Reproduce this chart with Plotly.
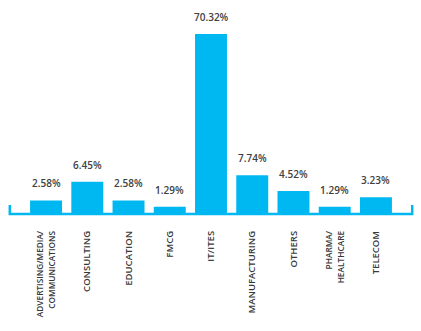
import plotly.graph_objects as go

# Share of respondents by industry
categories = [
    "ADVERTISING/MEDIA/<br>COMMUNICATIONS",
    "CONSULTING",
    "EDUCATION",
    "FMCG",
    "IT/ITES",
    "MANUFACTURING",
    "OTHERS",
    "PHARMA/<br>HEALTHCARE",
    "TELECOM",
]
shares = [2.58, 6.45, 2.58, 1.29, 70.32, 7.74, 4.52, 1.29, 3.23]

BLUE = "#00B8F1"
Y_TOP = 36.8  # axis is cut off here so the small bars stay readable


def tick_text(label):
    # two-line labels are set a little smaller than the single-line ones
    if "<br>" in label:
        return "<br>".join(
            f'<span style="font-size:8.3px">{part}</span>' for part in label.split("<br>")
        )
    return label


fig = go.Figure(
    go.Bar(
        x=list(range(len(categories))),
        y=shares,
        marker=dict(color=BLUE, line=dict(width=0)),
        hoverinfo="skip",
    )
)

# Value labels above each bar (the tallest bar is cut at the axis top)
for i, v in enumerate(shares):
    fig.add_annotation(
        x=i, y=min(v, Y_TOP), xref="x", yref="y",
        text=f"{v:.2f}%", showarrow=False,
        yanchor="bottom", yshift=8,
        font=dict(family="Open Sans", size=10, color="#404040", weight=600),
    )

# Bracket-shaped baseline under the bars
fig.add_shape(
    type="path", xref="paper", yref="paper",
    path="M -0.003,0.044 L -0.003,-0.005 L 1.003,-0.005 L 1.003,0.044",
    line=dict(color=BLUE, width=2.5),
)

fig.update_layout(
    width=421, height=331,
    margin=dict(l=11, r=10, t=34, b=118, autoexpand=False),
    paper_bgcolor="white", plot_bgcolor="white",
    bargap=0.225,
    showlegend=False,
    xaxis=dict(
        range=[-0.85, 8.85],
        tickmode="array",
        tickvals=list(range(len(categories))),
        ticktext=[tick_text(c) for c in categories],
        tickangle=-90,
        automargin=False,
        showgrid=False, zeroline=False, showline=False,
        ticks="", ticklabelstandoff=15,
        tickfont=dict(family="Open Sans", size=9.5, color="#383838", weight=600),
        fixedrange=True,
    ),
    yaxis=dict(
        range=[0, Y_TOP],
        visible=False,
        automargin=False,
        fixedrange=True,
    ),
)

fig.write_html("out.html")
